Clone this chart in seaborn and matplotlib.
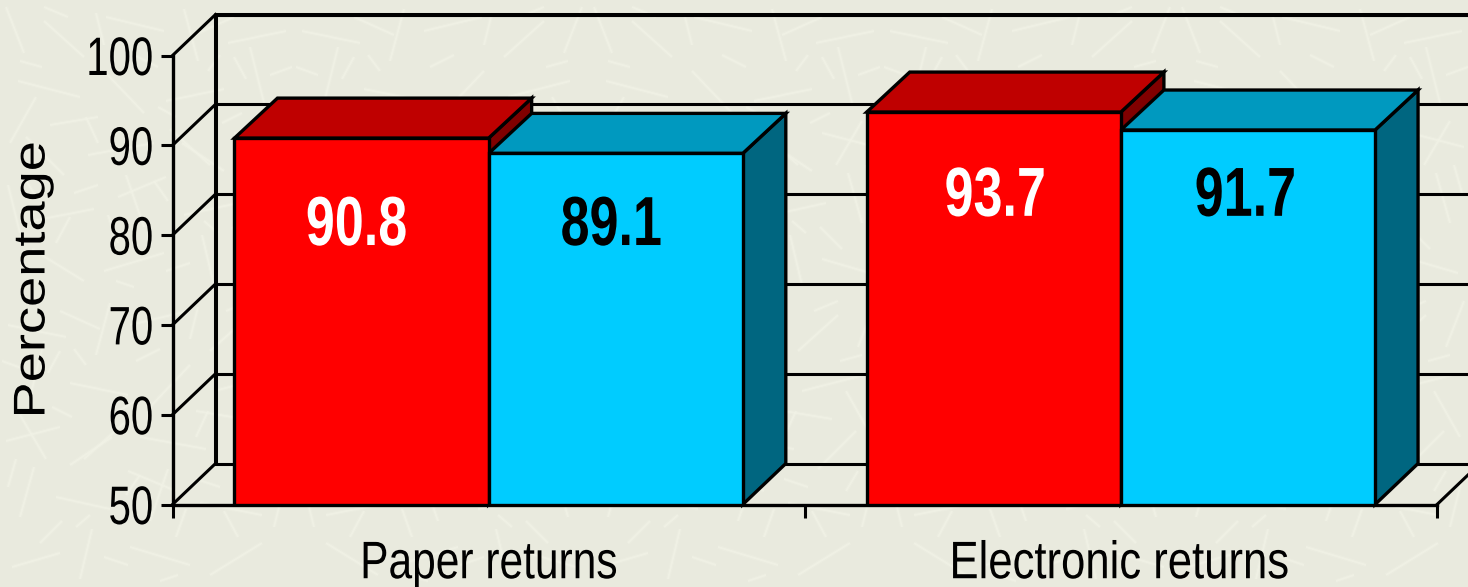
import pandas as pd
import seaborn as sns
import matplotlib
matplotlib.use("Agg")
import matplotlib.pyplot as plt
from matplotlib.collections import LineCollection
from matplotlib.patches import Polygon
from matplotlib.patheffects import AbstractPathEffect
from matplotlib.transforms import Affine2D, IdentityTransform

# chart values
categories = ["Paper returns", "Electronic returns"]
series_names = ["Red", "Blue"]
red_values = [90.8, 93.7]
blue_values = [89.1, 91.7]
y_ticks = [50, 60, 70, 80, 90, 100]

# front, top and side colours of each box
front_colors = ["#FF0000", "#00CCFF"]
top_colors = ["#BF0000", "#0099BF"]
side_colors = ["#800000", "#006680"]
text_colors = ["white", "black"]

# paper texture behind the chart, pixels inside one repeating tile
sticks = [
    (12, 20, 60, 34), (80, 8, 92, 58), (130, 40, 190, 22), (210, 12, 262, 44),
    (20, 70, 34, 120), (56, 90, 110, 78), (150, 66, 168, 118), (200, 84, 262, 72),
    (274, 60, 286, 108), (6, 146, 60, 160), (84, 128, 124, 164), (140, 150, 206, 138),
    (230, 118, 268, 156), (30, 190, 44, 246), (70, 204, 128, 192), (150, 180, 190, 222),
    (214, 196, 276, 212), (8, 262, 66, 250), (96, 232, 110, 284), (130, 262, 188, 276),
    (210, 236, 250, 272), (270, 240, 288, 286), (46, 128, 20, 172), (176, 96, 128, 116),
    (244, 168, 196, 176), (112, 150, 70, 122), (60, 276, 100, 258), (284, 150, 258, 196),
    (40, 44, 62, 66), (104, 30, 128, 22), (176, 50, 186, 78), (238, 50, 224, 76),
    (76, 60, 90, 72), (126, 92, 140, 112), (196, 108, 220, 100), (8, 100, 16, 128),
    (52, 180, 72, 170), (118, 176, 136, 186), (196, 150, 208, 176), (252, 226, 274, 232),
    (48, 214, 60, 236), (136, 226, 160, 238), (190, 248, 198, 280), (74, 238, 86, 222),
    (160, 6, 178, 12), (258, 96, 270, 116), (2, 226, 24, 218), (226, 276, 250, 286),
]
tile = 294


class Squeeze(AbstractPathEffect):
    # narrows or stretches a text around its ink, no narrow Arial is installed
    def __init__(self, sx=1.0, sy=1.0, anchor="center", shift=0.0):
        super().__init__()
        self.sx = sx
        self.sy = sy
        self.anchor = anchor
        self.shift = shift

    def draw_path(self, renderer, gc, tpath, affine, rgbFace=None):
        box = tpath.transformed(affine).get_extents()
        ax_x = box.x1 if self.anchor == "right" else (box.x0 + box.x1) / 2
        ax_y = (box.y0 + box.y1) / 2
        scaled = affine + Affine2D().translate(-ax_x, -ax_y).scale(self.sx, self.sy).translate(ax_x + self.shift, ax_y)
        renderer.draw_path(gc, tpath, scaled, rgbFace)


sns.set_theme(style="white")
plt.rcParams["font.family"] = ["Liberation Sans", "DejaVu Sans"]

df = pd.DataFrame({
    "category": categories * 2,
    "series": [series_names[0]] * 2 + [series_names[1]] * 2,
    "value": red_values + blue_values,
})

fig = plt.figure(figsize=(14.68, 5.87), dpi=100, facecolor="#E9EADE")

# tile the sticks over the whole figure, every other tile mirrored
segs = []
for i in range(6):
    for j in range(3):
        for x1, y1, x2, y2 in sticks:
            if (i + j) % 2:
                x1, x2 = tile - x1, tile - x2
            segs.append([(x1 + i * tile, y1 + j * tile), (x2 + i * tile, y2 + j * tile)])
fig.add_artist(LineCollection(segs, colors="#F0F1E5", linewidths=3.0, alpha=0.35, transform=IdentityTransform(), zorder=0))
fig.add_artist(LineCollection(segs, colors="#F1F2E6", linewidths=1.3, alpha=0.8, transform=IdentityTransform(), zorder=0))

ax = fig.add_axes([172.5 / 1468, 82.5 / 587, 1264.5 / 1468, 449 / 587])
ax.patch.set_visible(False)

sns.barplot(data=df, x="category", y="value", hue="series", order=categories, hue_order=series_names,
            palette=front_colors, width=0.804, gap=0, saturation=1, edgecolor="black", linewidth=2.4,
            legend=False, ax=ax, zorder=5)

ax.set_xlim(-0.5, 1.5)
ax.set_ylim(50, 100)

# depth of the fake 3D, in data units
dx = 43 / 632
dy = 41 / 8.98
dy_box = 40 / 8.98

# back wall and floor
line_kw = dict(color="black", lw=2.2, zorder=1, clip_on=False, solid_capstyle="projecting")
for v in y_ticks:
    ax.plot([-0.5, -0.5 + dx], [v, v + dy], **line_kw)
    ax.plot([-0.5 + dx, 1.5 + dx], [v + dy, v + dy], **line_kw)
ax.plot([-0.5 + dx, 1.5 + dx], [100 + dy, 100 + dy], color="black", lw=2.9, zorder=1, clip_on=False)
ax.plot([-0.5 + dx, -0.5 + dx], [50 + dy, 100 + dy], color="black", lw=2.9, zorder=1, clip_on=False)
ax.plot([1.5, 1.5 + dx], [50, 50 + dy], **line_kw)

# boxes, top and side faces are built from what seaborn drew
label_heights = [80.9, 84.15]
label_nudge = [[-5, 1.5], [-4.5, -2.5]]
for s, container in enumerate(ax.containers):
    for c, bar in enumerate(container):
        x0 = bar.get_x()
        x1 = x0 + bar.get_width()
        v = bar.get_height()
        top = [(x0, v), (x1, v), (x1 + dx, v + dy_box), (x0 + dx, v + dy_box)]
        side = [(x1, 50), (x1, v), (x1 + dx, v + dy_box), (x1 + dx, 50 + dy)]
        ax.add_patch(Polygon(side, facecolor=side_colors[s], edgecolor="black", lw=2.4,
                             zorder=3 + s * 0.1, clip_on=False, joinstyle="miter"))
        ax.add_patch(Polygon(top, facecolor=top_colors[s], edgecolor="black", lw=2.4,
                             zorder=3 + s * 0.1, clip_on=False, joinstyle="miter"))
        ax.text(x0 + bar.get_width() / 2 + label_nudge[s][c] / 632, label_heights[c], f"{v:.1f}",
                color=text_colors[s], fontsize=50, fontweight="bold", ha="center", va="center",
                zorder=6, path_effects=[Squeeze(sx=0.75)])

for side_name in ["top", "right"]:
    ax.spines[side_name].set_visible(False)
for side_name in ["left", "bottom"]:
    ax.spines[side_name].set_color("black")
    ax.spines[side_name].set_linewidth(2.4)
    ax.spines[side_name].set_zorder(7)

ax.set_yticks(y_ticks)
ax.tick_params(axis="y", which="major", length=8.5, width=2.2, color="black", left=True, pad=5,
               labelsize=39, labelcolor="black")
ax.set_xticks([-0.5, 0.5, 1.5])
ax.set_xticklabels([])
ax.set_xticks([0, 1], minor=True)
ax.set_xticklabels(categories, minor=True)
ax.tick_params(axis="x", which="major", length=9.5, width=2.2, color="black", bottom=True)
ax.tick_params(axis="x", which="minor", length=0, pad=25, labelsize=38, labelcolor="black")

for label in ax.get_yticklabels():
    label.set_path_effects([Squeeze(sx=0.74, anchor="right")])
x_labels = ax.get_xticklabels(minor=True)
x_labels[0].set_path_effects([Squeeze(sx=0.805)])
x_labels[1].set_path_effects([Squeeze(sx=0.827, shift=-2)])

ax.set_xlabel("")
ax.set_ylabel("Percentage", fontsize=32, color="black", va="center", path_effects=[Squeeze(sy=1.22)])
ax.yaxis.set_label_coords((33 - 172.5) / 1264.5, (504.5 - 279.5) / 449)

fig.savefig("out.png", dpi=100)
